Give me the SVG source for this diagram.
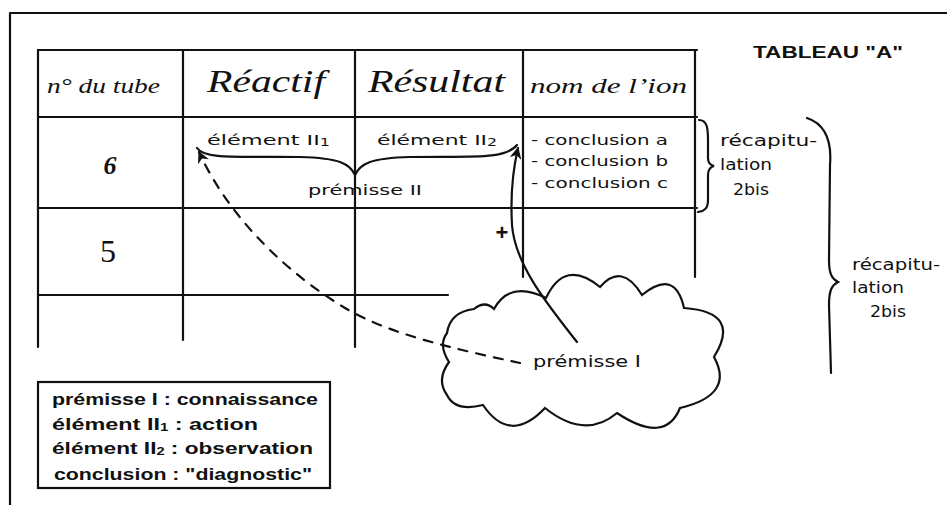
<svg xmlns="http://www.w3.org/2000/svg" width="947" height="505" viewBox="0 0 947 505">
<style>
.ln{stroke:#111;stroke-width:2.2;fill:none;stroke-linecap:round}
.hw{font-family:"Liberation Serif",serif;font-style:italic;fill:#111}
.tx{font-family:"DejaVu Sans","Liberation Sans",sans-serif;fill:#111}
.bd{font-family:"Liberation Sans",sans-serif;font-weight:bold;fill:#111}
</style>
<defs>
<marker id="ah2" viewBox="0 0 10 10" refX="9" refY="5" markerWidth="12" markerHeight="12" orient="auto-start-reverse" markerUnits="userSpaceOnUse">
<path d="M0,0 L10,5 L0,10 L3,5 Z" fill="#111"/>
</marker>
</defs>
<rect width="947" height="505" fill="#fff"/>
<g id="frame">
<path class="ln" d="M10,13 L947,13 M10,13 L10,505"/>
</g>
<g id="table">
<path class="ln" d="M38,50 L697,50 M38,117 L697,117 M38,208 L697,208 M38,295 L448,295"/>
<path class="ln" d="M38,50 L38,347 M183,50 L183,340 M355,50 L355,347 M523,50 L523,277 M695,50 L695,277"/>
<text class="hw" x="47" y="93" font-size="22" textLength="113" lengthAdjust="spacingAndGlyphs">n° du tube</text>
<text class="hw" x="207" y="92" font-size="32" textLength="118" lengthAdjust="spacingAndGlyphs">Réactif</text>
<text class="hw" x="368" y="92" font-size="32" textLength="137" lengthAdjust="spacingAndGlyphs">Résultat</text>
<text class="hw" x="530" y="93" font-size="22" textLength="157" lengthAdjust="spacingAndGlyphs">nom de l’ion</text>
<text class="hw" x="110" y="174" font-size="26" font-weight="bold" text-anchor="middle">6</text>
<text x="108" y="262" font-size="32" text-anchor="middle" style="font-family:'Liberation Serif',serif;fill:#111">5</text>
</g>
<g id="elements">
<text class="tx" x="207" y="145" font-size="14" textLength="123" lengthAdjust="spacingAndGlyphs">élément II<tspan font-size="10" dy="1">1</tspan></text>
<text class="tx" x="377" y="145" font-size="14" textLength="120" lengthAdjust="spacingAndGlyphs">élément II<tspan font-size="10" dy="1">2</tspan></text>
<text class="tx" x="308" y="195" font-size="14" textLength="114" lengthAdjust="spacingAndGlyphs">prémisse II</text>
<path class="ln" d="M197,148 C205,160 240,156 300,157 C340,158 350,164 355,175 C360,164 370,158 410,157 C470,156 505,160 517,145"/>
</g>
<g id="conclusions">
<text class="tx" x="531" y="145" font-size="14" textLength="137" lengthAdjust="spacingAndGlyphs">- conclusion a</text>
<text class="tx" x="531" y="166" font-size="14" textLength="137" lengthAdjust="spacingAndGlyphs">- conclusion b</text>
<text class="tx" x="531" y="188" font-size="14" textLength="137" lengthAdjust="spacingAndGlyphs">- conclusion c</text>
<path class="ln" d="M699,120 C707,120 708,128 708,140 L708,158 C708,163 710,165 714,166 C710,167 708,170 708,175 L708,200 C708,208 705,211 698,212"/>
<text class="tx" x="720" y="146" font-size="15" textLength="97" lengthAdjust="spacingAndGlyphs">récapitu-</text>
<text class="tx" x="720" y="170" font-size="15" textLength="52" lengthAdjust="spacingAndGlyphs">lation</text>
<text class="tx" x="733" y="195" font-size="15" textLength="36" lengthAdjust="spacingAndGlyphs">2bis</text>
</g>
<g id="title">
<text class="bd" x="753" y="58" font-size="17" textLength="150" lengthAdjust="spacingAndGlyphs">TABLEAU "A"</text>
</g>
<g id="recap">
<path class="ln" d="M807,118 C825,124 832,140 830,165 L829,260 C829,274 832,279 838,282 C832,285 829,290 829,305 L831,373"/>
<text class="tx" x="852" y="270" font-size="15" textLength="88" lengthAdjust="spacingAndGlyphs">récapitu-</text>
<text class="tx" x="852" y="293" font-size="15" textLength="52" lengthAdjust="spacingAndGlyphs">lation</text>
<text class="tx" x="870" y="317" font-size="15" textLength="36" lengthAdjust="spacingAndGlyphs">2bis</text>
</g>
<g id="cloud">
<path class="ln" d="M449,362 Q438,345 447,333 Q450,312 474,309 Q485,300 494,309 Q510,280 546,298 Q565,258 600,287 Q622,262 642,295 Q675,268 684,308 Q742,312 714,357 Q735,395 680,408 Q665,445 617,413 Q585,440 545,408 Q510,445 483,405 Q455,412 447,395 Q436,380 449,362 Z"/>
<text class="tx" x="533" y="367" font-size="15" textLength="108" lengthAdjust="spacingAndGlyphs">prémisse I</text>
</g>
<g id="connectors">
<path class="ln" d="M520,363 C460,350 390,335 345,308 C290,275 230,220 199,152" stroke-dasharray="9,9" marker-end="url(#ah2)"/>
<path class="ln" d="M577,342 C548,305 515,265 512,225 C510,190 514,165 518,148" marker-end="url(#ah2)"/>
<text class="bd" x="502" y="240" font-size="22" text-anchor="middle">+</text>
</g>
<g id="legend">
<rect x="38" y="382" width="292" height="106" fill="none" stroke="#111" stroke-width="2.2"/>
<text class="bd" x="52" y="405" font-size="17" textLength="266" lengthAdjust="spacingAndGlyphs">prémisse I : connaissance</text>
<text class="bd" x="52" y="430" font-size="17" textLength="206" lengthAdjust="spacingAndGlyphs">élément II<tspan font-size="11" dy="1">1</tspan><tspan dy="-1"> : action</tspan></text>
<text class="bd" x="52" y="454" font-size="17" textLength="261" lengthAdjust="spacingAndGlyphs">élément II<tspan font-size="11" dy="1">2</tspan><tspan dy="-1"> : observation</tspan></text>
<text class="bd" x="54" y="480" font-size="17" textLength="258" lengthAdjust="spacingAndGlyphs">conclusion : "diagnostic"</text>
</g>
</svg>
